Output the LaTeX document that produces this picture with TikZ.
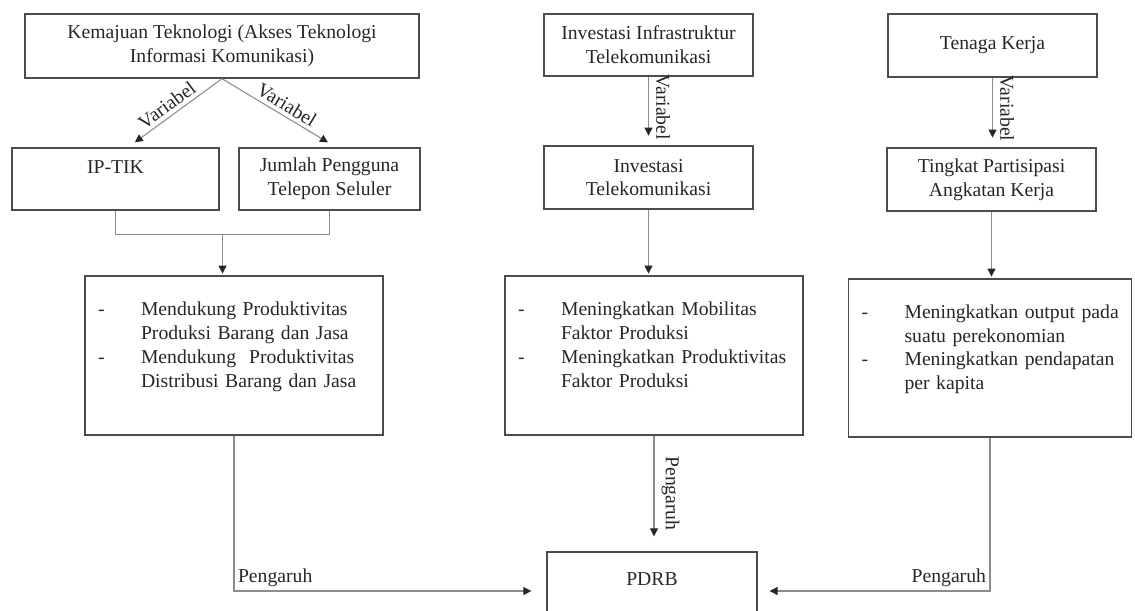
\documentclass[tikz,border=0pt]{standalone}
\usepackage{fontspec}
\setmainfont{Liberation Serif}
\usepackage{tikz}
\usetikzlibrary{arrows.meta, calc}

\newcommand{\dashlist}[1]{\begin{tabular}{@{}p{0.86cm}@{}l@{}}#1\end{tabular}}

\tikzset{
  box/.style={draw=black!70, line width=0.8pt, align=center, inner sep=2pt},
  listbox/.style={box, align=left, inner xsep=0.26cm},
  conn/.style={draw=black!45, line width=0.6pt},
  arr/.style={conn, -{Triangle[length=4.5pt,width=4.5pt,color=black!85]}, shorten >=1pt},
  lbl/.style={inner sep=2pt},
  vlbl/.style={lbl, inner ysep=4pt, rotate=-90, anchor=south},
}

\begin{document}
\begin{tikzpicture}[x=0.02cm, y=-0.02cm, font=\fontsize{11.2}{13.5}\selectfont, text=black!85]
\useasboundingbox (0,0) rectangle (1135,610);

% Left column
\node[box, minimum width=7.88cm, minimum height=1.28cm] (kem) at (222,46)
  {Kemajuan Teknologi (Akses Teknologi\\Informasi Komunikasi)};
\node[box, minimum width=4.14cm, minimum height=1.24cm] (ip) at (115.5,179) {IP-TIK\\~};
\node[box, minimum width=3.62cm, minimum height=1.24cm] (jml) at (329.5,179)
  {Jumlah Pengguna\\Telepon Seluler};
\node[listbox, text width=5.44cm, minimum height=3.18cm] (dukung) at (234,355.5)
  {\dashlist{- & Mendukung Produktivitas\\
   & Produksi Barang dan Jasa\\
   - & Mendukung\ \ Produktivitas\\
   & Distribusi Barang dan Jasa\\[10pt]}};

% Middle column
\node[box, minimum width=4.18cm, minimum height=1.24cm] (infra) at (648.5,45)
  {Investasi Infrastruktur\\Telekomunikasi};
\node[box, minimum width=4.18cm, minimum height=1.26cm] (invtel) at (648.5,177.5)
  {Investasi\\Telekomunikasi};
\node[listbox, text width=5.44cm, minimum height=3.18cm] (mobil) at (654,355.5)
  {\dashlist{- & Meningkatkan Mobilitas\\
   & Faktor Produksi\\
   - & Meningkatkan Produktivitas\\
   & Faktor Produksi\\[10pt]}};
\node[box, minimum width=4.2cm, minimum height=1.56cm] (pdrb) at (652,591) {PDRB\\~};

% Right column
\node[box, minimum width=4.18cm, minimum height=1.26cm] (tenaga) at (992.5,45.5) {Tenaga Kerja};
\node[box, minimum width=4.18cm, minimum height=1.26cm] (tpak) at (991.5,179.5)
  {Tingkat Partisipasi\\Angkatan Kerja};
\node[listbox, text width=5.14cm, minimum height=3.16cm] (output) at (990,358)
  {\dashlist{- & Meningkatkan output pada\\
   & suatu perekonomian\\
   - & Meningkatkan pendapatan\\
   & per kapita\\[10pt]}};

% Variabel arrows
\draw[arr] (kem.south) -- ($(ip.north)+(18,-4)$)
  node[lbl, pos=0.55, sloped, above] {Variabel};
\draw[arr] (kem.south) -- ($(jml.north)+(0,-4)$)
  node[lbl, pos=0.55, sloped, above] {Variabel};
\draw[arr] (infra.south) -- ($(infra.south |- invtel.north)+(0,-8)$)
  node[vlbl, midway] {Variabel};
\draw[arr] (tenaga.south) -- ($(tenaga.south |- tpak.north)+(0,-8)$)
  node[vlbl, midway] {Variabel};

% Bracket under the two indicators
\coordinate (join) at ($(ip.south)!0.5!(jml.south)+(0,24)$);
\draw[conn] (ip.south) |- (join) -| (jml.south);
\draw[arr] (join) -- (join |- dukung.north);
\draw[arr] (invtel.south) -- (invtel.south |- mobil.north);
\draw[arr] (tpak.south) -- (tpak.south |- output.north);

% Pengaruh towards PDRB
\draw[arr, shorten >=0.3cm] (dukung.south) |- (pdrb.west)
  node[lbl, pos=0.5, anchor=south west] {Pengaruh};
\draw[arr, shorten >=0.3cm] (mobil.south) -- (mobil.south |- pdrb.north)
  node[vlbl, midway] {Pengaruh};
\draw[arr, shorten >=0.24cm] (output.south) |- (pdrb.east)
  node[lbl, pos=0.5, anchor=south east] {Pengaruh};
\end{tikzpicture}
\end{document}
